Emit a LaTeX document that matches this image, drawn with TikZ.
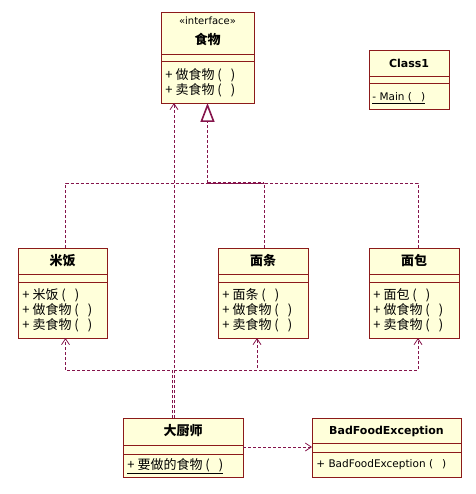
\documentclass[tikz,border=0pt]{standalone}
\usepackage{fontspec}
\setmainfont{DejaVu Sans}
\newfontfamily\cjk{Noto Sans CJK SC}
\usetikzlibrary{arrows.meta}
\definecolor{boxred}{HTML}{8C1A1A}
\definecolor{boxfill}{HTML}{FFFFDA}
\definecolor{linkred}{HTML}{85144B}
\newcommand\noargs{\ (\hspace{9pt})}

\begin{document}
\begin{tikzpicture}[x=1pt,y=-1pt,line width=0.8pt,
  cls/.style={draw=boxred,fill=boxfill,anchor=north west,inner sep=0pt,outer sep=0pt},
  sepline/.style={draw=boxred},
  cname/.style={inner sep=0pt,font=\bfseries\fontsize{11}{13}\selectfont},
  ccname/.style={inner sep=0pt,font=\cjk\bfseries\fontsize{13}{14}\selectfont},
  meth/.style={anchor=west,inner sep=0pt,font=\fontsize{10.5}{12}\selectfont},
  cmeth/.style={anchor=west,inner sep=0pt,font=\cjk\fontsize{13}{14}\selectfont},
  link/.style={draw=linkred,dash pattern=on 3pt off 2pt},
  real/.style={link,-{Triangle[length=19pt,width=14pt,fill=white]}},
  dep/.style={link,-{Straight Barb[length=6pt,width=8pt]}}]
\useasboundingbox (0,0) rectangle (475,494);

% interface
\node[cls,minimum width=93pt,minimum height=91pt] (food) at (161,12) {};
\draw[sepline] (food.west |- 0,54) -- (food.east |- 0,54);
\draw[sepline] (food.west |- 0,61) -- (food.east |- 0,61);
\node[inner sep=0pt,font=\fontsize{10}{12}\selectfont] (foodst) at (food.north |- 0,21) {«interface»};
\node[ccname] (foodname) at (food.north |- 0,39) {食物};
\node[cmeth] (foodm1) at (165,75) {+ 做食物\noargs};
\node[cmeth] (foodm2) at (165,90) {+ 卖食物\noargs};

% Class1
\node[cls,minimum width=80pt,minimum height=59pt] (class1) at (369,50) {};
\draw[sepline] (class1.west |- 0,76) -- (class1.east |- 0,76);
\draw[sepline] (class1.west |- 0,83) -- (class1.east |- 0,83);
\node[cname] (class1name) at (class1.north |- 0,63) {Class1};
\node[meth] (class1m1) at (372,98) {\underline{- Main\noargs}};

% implementations
\node[cls,minimum width=89pt,minimum height=90pt] (rice) at (18,248) {};
\draw[sepline] (rice.west |- 0,274) -- (rice.east |- 0,274);
\draw[sepline] (rice.west |- 0,282) -- (rice.east |- 0,282);
\node[ccname] (ricename) at (rice.north |- 0,261) {米饭};
\node[cmeth] (ricem1) at (22,295) {+ 米饭\noargs};
\node[cmeth] (ricem2) at (22,310) {+ 做食物\noargs};
\node[cmeth] (ricem3) at (22,325) {+ 卖食物\noargs};

\node[cls,minimum width=90pt,minimum height=90pt] (noodle) at (218,248) {};
\draw[sepline] (noodle.west |- 0,274) -- (noodle.east |- 0,274);
\draw[sepline] (noodle.west |- 0,282) -- (noodle.east |- 0,282);
\node[ccname] (noodlename) at (noodle.north |- 0,261) {面条};
\node[cmeth] (noodlem1) at (222,295) {+ 面条\noargs};
\node[cmeth] (noodlem2) at (222,310) {+ 做食物\noargs};
\node[cmeth] (noodlem3) at (222,325) {+ 卖食物\noargs};

\node[cls,minimum width=90pt,minimum height=90pt] (bread) at (369,248) {};
\draw[sepline] (bread.west |- 0,274) -- (bread.east |- 0,274);
\draw[sepline] (bread.west |- 0,282) -- (bread.east |- 0,282);
\node[ccname] (breadname) at (bread.north |- 0,261) {面包};
\node[cmeth] (breadm1) at (373,295) {+ 面包\noargs};
\node[cmeth] (breadm2) at (373,310) {+ 做食物\noargs};
\node[cmeth] (breadm3) at (373,325) {+ 卖食物\noargs};

% cook and exception
\node[cls,minimum width=120pt,minimum height=59pt] (cook) at (123,418) {};
\draw[sepline] (cook.west |- 0,445) -- (cook.east |- 0,445);
\draw[sepline] (cook.west |- 0,454) -- (cook.east |- 0,454);
\node[ccname] (cookname) at (cook.north |- 0,431) {大厨师};
\node[cmeth] (cookm1) at (127,466) {\underline{+ 要做的食物\noargs}};

\node[cls,minimum width=149pt,minimum height=59pt] (badfood) at (312,418) {};
\draw[sepline] (badfood.west |- 0,443) -- (badfood.east |- 0,443);
\draw[sepline] (badfood.west |- 0,452) -- (badfood.east |- 0,452);
\node[cname] (badfoodname) at (badfood.north |- 0,431) {BadFoodException};
\node[meth] (badfoodm1) at (316,465) {+ BadFoodException\noargs};

% realization
\coordinate (junc) at (food.south |- 0,183);
\draw[link] ([xshift=3pt]rice.north) |- (junc);
\draw[link] ([xshift=1pt]noodle.north) |- (junc);
\draw[link] ([xshift=4pt]bread.north) |- (junc);
\draw[link,line width=1.6pt] (junc) -- ([xshift=1pt]noodle.north |- junc);
\draw[real,line width=1.6pt] (junc) -- (food.south);

% dependencies
\coordinate (cookup) at (174,418);
\coordinate (bus) at (0,370);
\coordinate (ricein) at ([xshift=3pt]rice.south);
\coordinate (noodlein) at ([xshift=-6pt]noodle.south);
\coordinate (breadin) at ([xshift=4pt]bread.south);
\draw[dep] (cookup) -- (cookup |- food.south);
\draw[dep] ([xshift=-2pt]cookup) |- (bus -| ricein) -- (ricein);
\draw[dep] ([xshift=-2pt]cookup) |- (bus -| noodlein) -- (noodlein);
\draw[dep] ([xshift=-2pt]cookup) |- (bus -| breadin) -- (breadin);
\draw[dep] (cook.east |- 0,447) -- (badfood.west |- 0,447);
\end{tikzpicture}
\end{document}
